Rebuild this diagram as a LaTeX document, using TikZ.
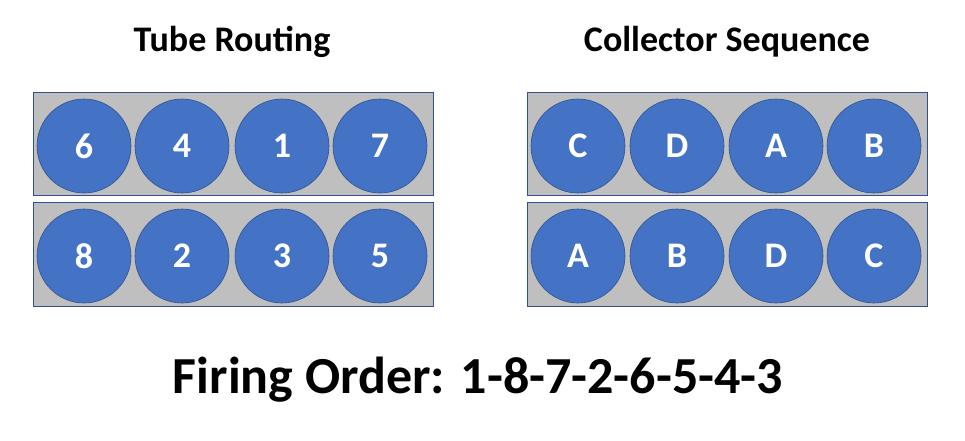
\documentclass[tikz,border=0pt]{standalone}
\usepackage{fontspec}
\setmainfont{Carlito}
\definecolor{cfill}{HTML}{4472C4}
\definecolor{cline}{HTML}{2F528F}
\definecolor{gbox}{HTML}{BFBFBF}
\begin{document}
\begin{tikzpicture}[x=1pt,y=-1pt,
  tray/.style={draw=cline,line width=0.6pt,fill=gbox},
  ball/.style={circle,draw=cline,line width=0.6pt,fill=cfill,minimum size=94pt,inner sep=0pt,text=white,font=\fontsize{36}{40}\selectfont\bfseries},
  title/.style={font=\fontsize{36}{40}\selectfont\bfseries}]
\useasboundingbox (0,0) rectangle (965,440);
\foreach \x in {33,527}{
  \draw[tray] (\x,92) rectangle (\x+400,195);
  \draw[tray] (\x,202) rectangle (\x+400,306);
}
\node[title] (t1) at (232,42) {Tube Routing};
\node[title] (t2) at (727,42) {Collector Sequence};
\foreach \n/\x/\y/\t in {a1/84/146/6,a2/182/146/4,a3/282/146/1,a4/380/146/7,
  b1/84/256/8,b2/182/256/2,b3/282/256/3,b4/380/256/5,
  c1/578/146/C,c2/677/146/D,c3/776/146/A,c4/874/146/B,
  d1/578/256/A,d2/677/256/B,d3/776/256/D,d4/874/256/C}
  \node[ball] (\n) at (\x,\y) {\t};
\node[font=\fontsize{52}{58}\selectfont\bfseries] (fo) at (478,380) {Firing Order: 1-8-7-2-6-5-4-3};
\end{tikzpicture}
\end{document}
